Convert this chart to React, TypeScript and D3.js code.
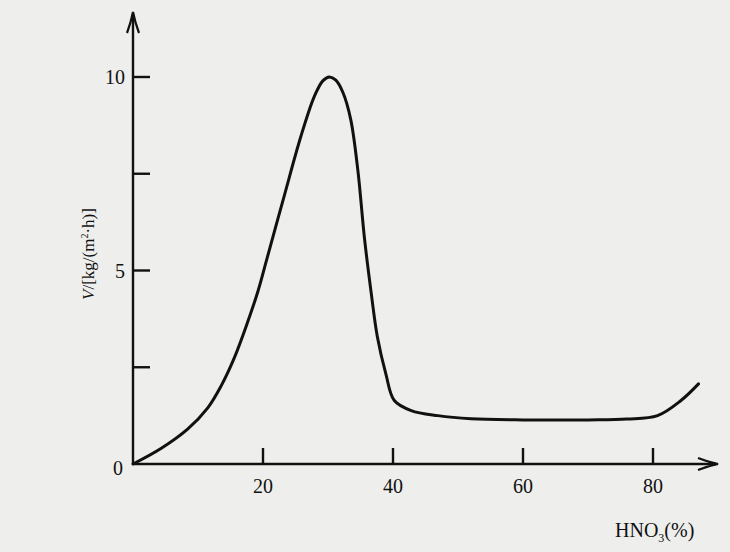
import React from "react";
import * as d3 from "d3";

const hno3 = [0, 4.3, 8.4, 11.5, 13.5, 15.6, 17.6, 19.2, 20.6, 23.3, 25.8, 27.9, 29.2, 30.2, 31.2, 32.3, 33.5, 34.6, 35.6, 36.6, 37.6, 38.9, 40.2, 42.8, 46.9, 52, 60, 70, 76, 80.7, 84.3, 87];
const rate = [0, 0.4, 0.9, 1.45, 2.0, 2.75, 3.65, 4.45, 5.3, 6.95, 8.45, 9.5, 9.9, 10.0, 9.92, 9.6, 8.9, 7.58, 5.85, 4.48, 3.28, 2.33, 1.64, 1.38, 1.25, 1.17, 1.14, 1.14, 1.16, 1.25, 1.64, 2.07];
const xTicks = [20, 40, 60, 80];
const yTicks = [2.5, 5, 7.5, 10];
const yLabelled = [5, 10];

const W = 730;
const H = 552;

export default function App() {
  const x = d3.scaleLinear().domain([0, 80]).range([133, 653]);
  const y = d3.scaleLinear().domain([0, 10]).range([464, 77]);
  const pts: [number, number][] = hno3.map((h, i) => [h, rate[i]]);
  const line = d3
    .line<[number, number]>()
    .x((d) => x(d[0]))
    .y((d) => y(d[1]))
    .curve(d3.curveCatmullRom.alpha(0.5));
  const x0 = x(0);
  const y0 = y(0);
  const font = "'Liberation Serif', 'Times New Roman', serif";
  return (
    <svg
      width={W}
      height={H}
      style={{ position: "absolute", left: 0, top: 0, background: "#eeeeec" }}
      fontFamily={font}
    >
      <rect x={0} y={0} width={W} height={H} fill="#eeeeec" />
      {/* axes */}
      <line x1={x0} y1={y0} x2={716} y2={y0} stroke="#111" strokeWidth={2.4} />
      <line x1={x0} y1={y0} x2={x0} y2={14} stroke="#111" strokeWidth={2.4} />
      <path d={`M698,458 Q708,462 718,${y0} Q708,466 698,470`} fill="none" stroke="#111" strokeWidth={2.2} />
      <path d={`M127,33 Q131,22 ${x0},12 Q135,22 139,33`} fill="none" stroke="#111" strokeWidth={2.2} />
      {/* x ticks */}
      {xTicks.map((t) => (
        <g key={"x" + t}>
          <line x1={x(t)} x2={x(t)} y1={y0} y2={y0 - 16} stroke="#111" strokeWidth={2.4} />
          <text x={x(t)} y={493} textAnchor="middle" fontSize={20} fill="#111">
            {t}
          </text>
        </g>
      ))}
      {/* y ticks */}
      {yTicks.map((t) => (
        <g key={"y" + t}>
          <line x1={x0} x2={x0 + 17} y1={y(t)} y2={y(t)} stroke="#111" strokeWidth={2.4} />
          {yLabelled.includes(t) && (
            <text x={125} y={y(t) + 7} textAnchor="end" fontSize={20} fill="#111">
              {t}
            </text>
          )}
        </g>
      ))}
      <text x={118} y={475} textAnchor="middle" fontSize={20} fill="#111">
        0
      </text>
      {/* curve */}
      <path d={line(pts) || ""} fill="none" stroke="#111" strokeWidth={3} strokeLinecap="round" strokeLinejoin="round" />
      {/* axis labels */}
      <text x={615} y={537} fontSize={20} fill="#111">
        HNO<tspan fontSize={12} dy={5}>3</tspan>
        <tspan dy={-5}>(%)</tspan>
      </text>
      <text
        transform="translate(94,254) rotate(-90)"
        textAnchor="middle"
        fontSize={17}
        fill="#111"
      >
        <tspan fontStyle="italic">V</tspan>/[kg/(m<tspan fontSize={10} dy={-6}>2</tspan>
        <tspan dy={6}>·h)]</tspan>
      </text>
    </svg>
  );
}
